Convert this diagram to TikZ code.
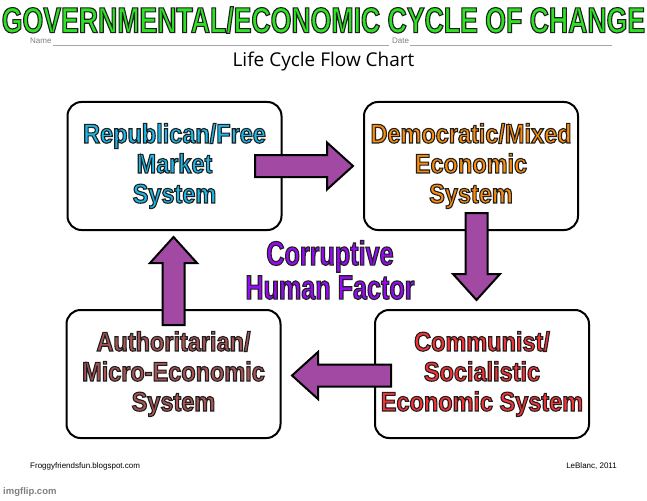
\documentclass[tikz,border=0pt]{standalone}
\usepackage{fontspec}
\setmainfont{Liberation Sans}
\newfontfamily\impactfont[FakeStretch=0.74]{Liberation Sans Bold}
\newfontfamily\boxfont[FakeStretch=0.87]{Liberation Sans Bold}
\newfontfamily\handfont{Open Sans}

\definecolor{titlegreen}{RGB}{45,225,35}
\definecolor{repcyan}{RGB}{25,185,235}
\definecolor{demorange}{RGB}{250,140,10}
\definecolor{autbrown}{RGB}{168,84,84}
\definecolor{comred}{RGB}{250,50,55}
\definecolor{corpurple}{RGB}{150,10,245}
\definecolor{arrowpurple}{RGB}{162,73,164}

% dark edge round the big letters (fill + stroke)
\newcommand{\glow}[1]{\special{pdf:code 2 Tr 1.1 w 0.12 0.12 0.12 RG}#1\special{pdf:code 0 Tr}}
% block arrow: start, angle, length
\newcommand{\fatarrow}[3]{%
  \draw[fatarrow, shift={#1}, rotate=#2]
    (0,-11) -- (#3-26,-11) -- (#3-26,-23.5) -- (#3,0)
    -- (#3-26,23.5) -- (#3-26,11) -- (0,11) -- cycle;}

\begin{document}
\begin{tikzpicture}[
    x=1pt, y=-1pt,
    box/.style={draw=black, line width=2pt, rounded corners=14pt, fill=white,
      minimum width=214pt, minimum height=128pt, align=center,
      font=\boxfont\fontsize{27}{30}\selectfont},
    fatarrow/.style={draw=black, line width=2pt, fill=arrowpurple, line join=miter},
    small/.style={font=\fontsize{8}{8}\selectfont, inner sep=1pt}
  ]
  \useasboundingbox[fill=white] (0,0) rectangle (647,500);

  % Name / Date line
  \node[small, text=gray, anchor=south west] (name) at (29,45) {Name};
  \node[small, text=gray, anchor=south west] (date) at (391,45) {Date};
  \coordinate (nameend) at (389,45);
  \coordinate (dateend) at (612,45);
  \draw[gray!70] (name.south east) -- (nameend);
  \draw[gray!70] (date.south east) -- (dateend);

  % Titles
  \node[font=\impactfont\fontsize{36}{36}\selectfont, text=titlegreen] (title) at (323.5,20)
    {\glow{GOVERNMENTAL/ECONOMIC CYCLE OF CHANGE}};
  \node[font=\handfont\fontsize{19}{19}\selectfont] (sub) at (323.5,62) {Life Cycle Flow Chart};

  % Boxes
  \node[box, text=repcyan] (rep) at (174.5,166)
    {\glow{Republican/Free}\\\glow{Market}\\\glow{System}};
  \node[box, text=demorange] (dem) at (471,166)
    {\glow{Democratic/Mixed}\\\glow{Economic}\\\glow{System}};
  \node[box, text=comred] (com) at (482,374)
    {\glow{Communist/}\\\glow{Socialistic}\\\glow{Economic System}};
  \node[box, text=autbrown] (aut) at (173.5,374)
    {\glow{Authoritarian/}\\\glow{Micro-Economic}\\\glow{System}};

  % Centre label
  \node[align=center, text=corpurple, font=\impactfont\fontsize{34}{34}\selectfont] (cor) at (330,270)
    {\glow{Corruptive}\\\glow{Human Factor}};

  % Arrows
  \fatarrow{(255,166)}{0}{98}
  \fatarrow{(476.5,213)}{-90}{87}
  \fatarrow{(391,375.5)}{180}{99}
  \fatarrow{(173.5,325)}{90}{88}

  % Footer
  \node[small, anchor=west] (site) at (29,466) {Froggyfriendsfun.blogspot.com};
  \node[small, anchor=east] (auth) at (618,466) {LeBlanc, 2011};
  \node[anchor=west, inner sep=1pt, text=gray, font=\bfseries\fontsize{9.5}{9.5}\selectfont] (imgflip) at (2,492) {imgflip.com};
\end{tikzpicture}
\end{document}
